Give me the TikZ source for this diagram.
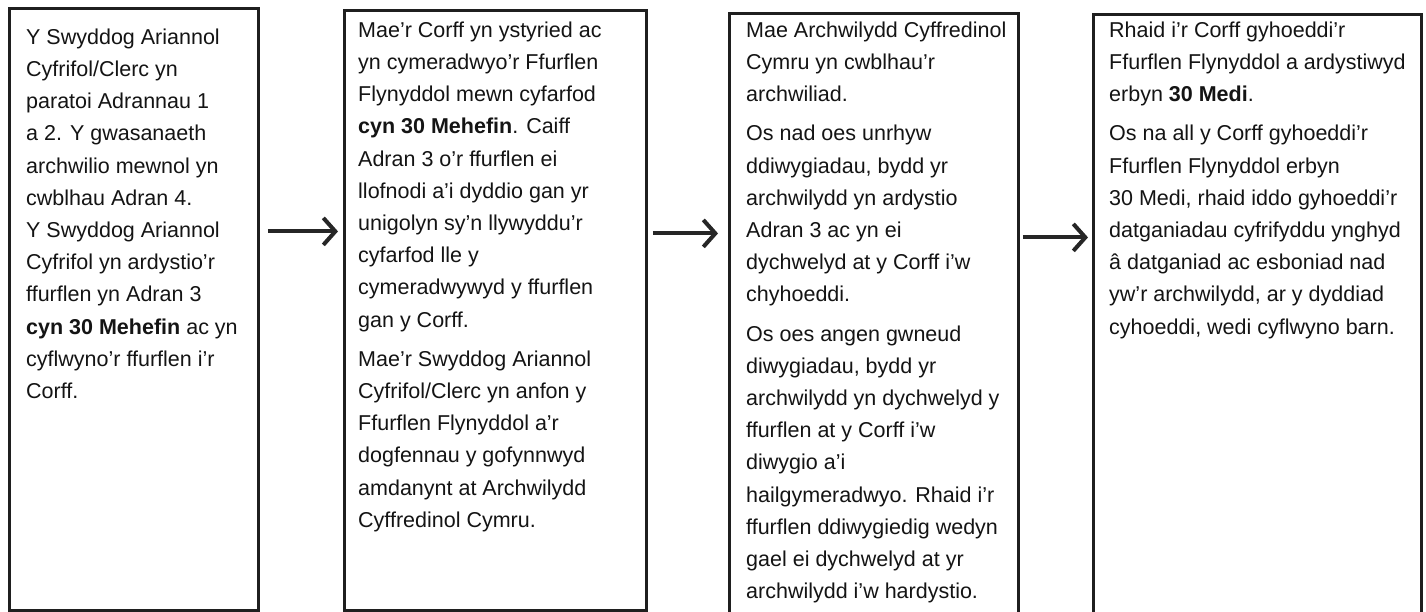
\documentclass[tikz,border=0pt]{standalone}
\usepackage{fontspec}
\setmainfont{Liberation Sans}
\usetikzlibrary{arrows.meta}
\begin{document}
\begin{tikzpicture}[x=1pt,y=-1pt,
  stagebox/.style={draw=black!88,line width=2.8pt,anchor=north west,inner sep=0pt},
  txt/.style={anchor=north west,inner sep=0pt,align=left,text=black!92,
    font=\fontsize{21.5}{32.2}\selectfont},
  arr/.style={draw=black!85,line width=4pt,
    -{Straight Barb[length=12pt,width=27pt,line width=4pt]}}]
\path[use as bounding box,fill=white] (0,0) rectangle (1426,611);
\begin{scope}
\clip (0,0) rectangle (1426,611);
\node[stagebox,minimum width=249pt,minimum height=602pt] (b1) at (8,7) {};
\node[stagebox,minimum width=302pt,minimum height=600pt] (b2) at (343,9) {};
\node[stagebox,minimum width=289pt,minimum height=612pt] (b3) at (728,12) {};
\node[stagebox,minimum width=328pt,minimum height=612pt] (b4) at (1092,13) {};
\end{scope}

\node[txt] (t1) at (26,28.5) {Y Swyddog Ariannol\\
Cyfrifol/Clerc yn\\
paratoi Adrannau 1\\
a 2. Y gwasanaeth\\
archwilio mewnol yn\\
cwblhau Adran 4.\\
Y Swyddog Ariannol\\
Cyfrifol yn ardystio’r\\
ffurflen yn Adran 3\\
\textbf{cyn 30 Mehefin} ac yn\\
cyflwyno’r ffurflen i’r\\
Corff.};

\node[txt] (t2) at (358,21.5) {Mae'r Corff yn ystyried ac\\
yn cymeradwyo’r Ffurflen\\
Flynyddol mewn cyfarfod\\
\textbf{cyn 30 Mehefin}. Caiff\\
Adran 3 o’r ffurflen ei\\
llofnodi a’i dyddio gan yr\\
unigolyn sy’n llywyddu’r\\
cyfarfod lle y\\
cymeradwywyd y ffurflen\\
gan y Corff.\\[7pt]
Mae’r Swyddog Ariannol\\
Cyfrifol/Clerc yn anfon y\\
Ffurflen Flynyddol a’r\\
dogfennau y gofynnwyd\\
amdanynt at Archwilydd\\
Cyffredinol Cymru.};

\node[txt] (t3) at (746,21.5) {Mae Archwilydd Cyffredinol\\
Cymru yn cwblhau’r\\
archwiliad.\\[7pt]
Os nad oes unrhyw\\
ddiwygiadau, bydd yr\\
archwilydd yn ardystio\\
Adran 3 ac yn ei\\
dychwelyd at y Corff i’w\\
chyhoeddi.\\[7pt]
Os oes angen gwneud\\
diwygiadau, bydd yr\\
archwilydd yn dychwelyd y\\
ffurflen at y Corff i’w\\
diwygio a’i\\
hailgymeradwyo. Rhaid i’r\\
ffurflen ddiwygiedig wedyn\\
gael ei dychwelyd at yr\\
archwilydd i’w hardystio.};

\node[txt] (t4) at (1109,21.5) {Rhaid i’r Corff gyhoeddi’r\\
Ffurflen Flynyddol a ardystiwyd\\
erbyn \textbf{30 Medi}.\\[7pt]
Os na all y Corff gyhoeddi’r\\
Ffurflen Flynyddol erbyn\\
30 Medi, rhaid iddo gyhoeddi’r\\
datganiadau cyfrifyddu ynghyd\\
â datganiad ac esboniad nad\\
yw’r archwilydd, ar y dyddiad\\
cyhoeddi, wedi cyflwyno barn.};

\draw[arr,shorten <=8pt,shorten >=5pt] ([yshift=78pt]b1.east) -- ([yshift=78pt]b1.east -| b2.west);
\draw[arr,shorten <=5pt,shorten >=10pt] ([yshift=77pt]b2.east) -- ([yshift=77pt]b2.east -| b3.west);
\draw[arr,shorten <=3pt,shorten >=4pt] ([yshift=82pt]b3.east) -- ([yshift=82pt]b3.east -| b4.west);
\end{tikzpicture}
\end{document}
